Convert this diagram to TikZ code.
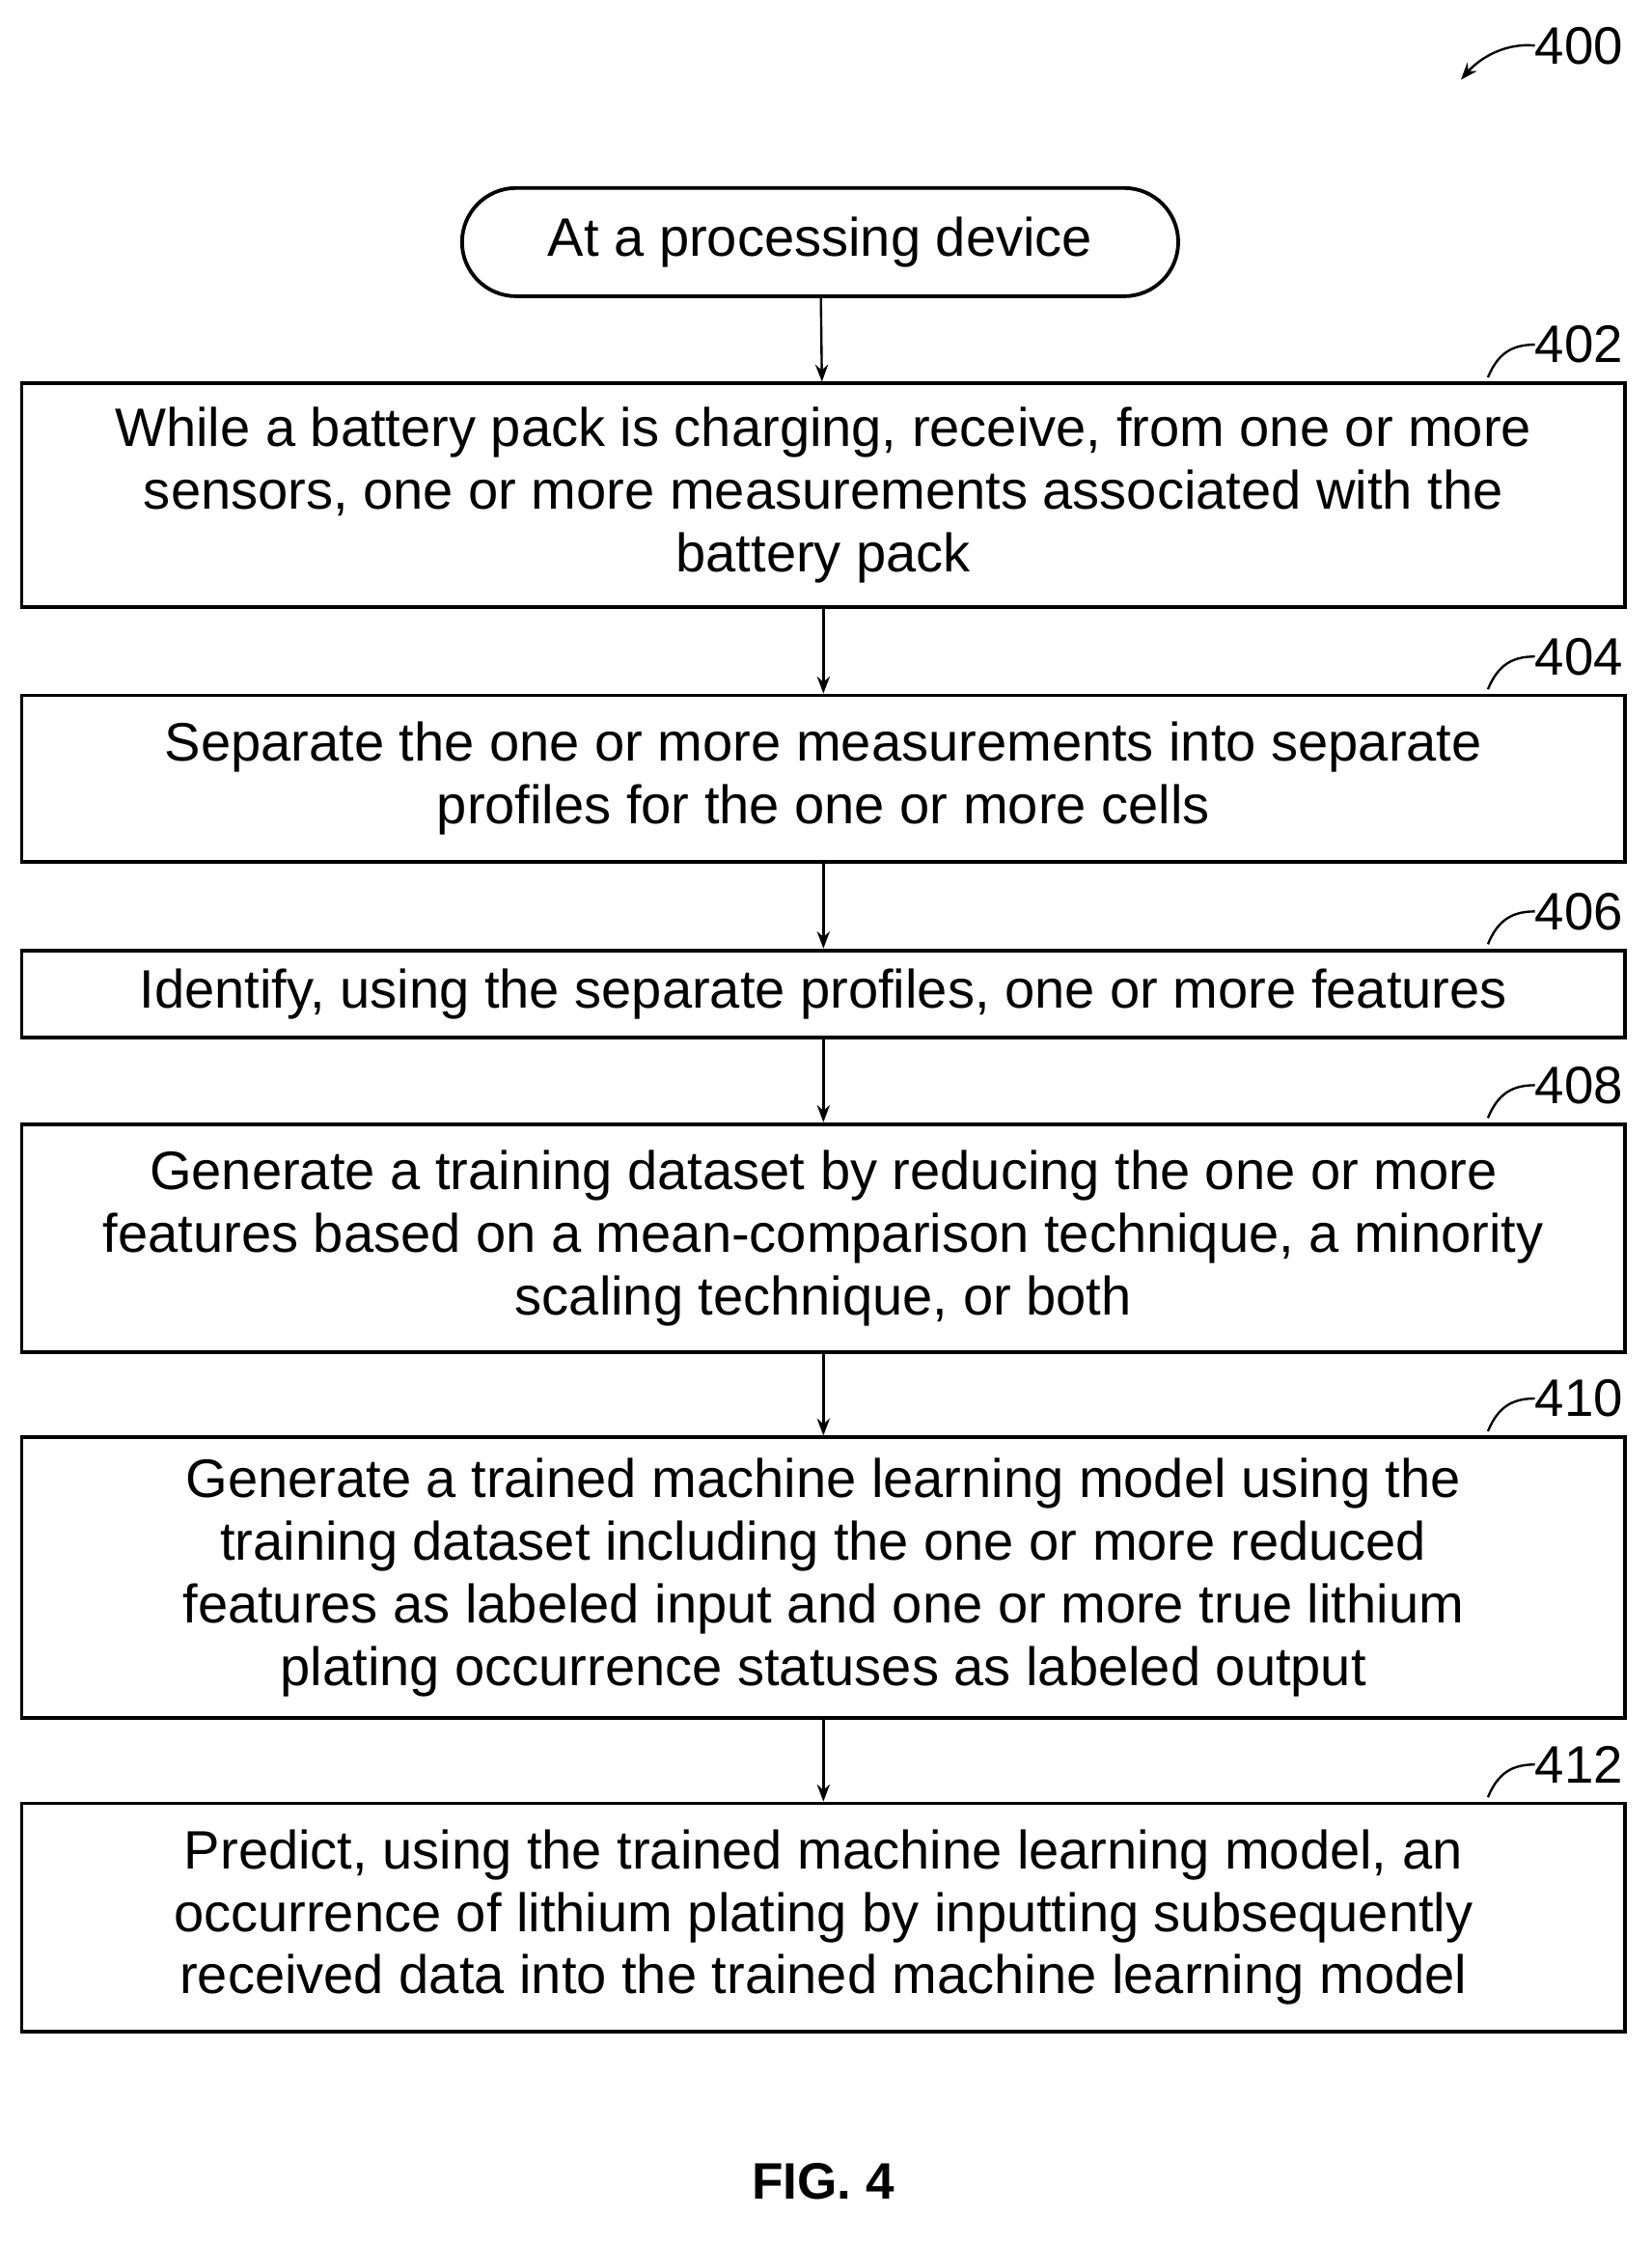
\documentclass[tikz,border=0pt]{standalone}
\usepackage{fontspec}
\setmainfont{Liberation Sans}
\usetikzlibrary{arrows.meta}
\begin{document}
\begin{tikzpicture}[x=1pt,y=-1pt,
  stepbox/.style={draw,line width=2.6pt,minimum width=1126pt,anchor=north west,inner sep=0pt,align=center,font=\fontsize{38}{44}\selectfont},
  term/.style={draw,line width=2.6pt,rounded corners=38pt,minimum width=503pt,minimum height=76pt,font=\fontsize{38}{44}\selectfont},
  arr/.style={line width=1.6pt,-{Stealth[length=12pt,width=9pt]}},
  lead/.style={line width=1.6pt},
  lbl/.style={font=\fontsize{37}{40}\selectfont,anchor=west,inner sep=0pt}]
\useasboundingbox (0,0) rectangle (1160,1575);
\node[term] (t) at (576,170) {At a processing device};
\node[stepbox,minimum height=157pt] (b402) at (14,268) {While a battery pack is charging, receive, from one or more\\sensors, one or more measurements associated with the\\battery pack};
\node[stepbox,minimum height=117pt] (b404) at (14,487) {Separate the one or more measurements into separate\\profiles for the one or more cells};
\node[stepbox,minimum height=61pt] (b406) at (14,666) {Identify, using the separate profiles, one or more features};
\node[stepbox,minimum height=160pt] (b408) at (14,788) {Generate a training dataset by reducing the one or more\\features based on a mean-comparison technique, a minority\\scaling technique, or both};
\node[stepbox,minimum height=197pt] (b410) at (14,1008) {Generate a trained machine learning model using the\\training dataset including the one or more reduced\\features as labeled input and one or more true lithium\\plating occurrence statuses as labeled output};
\node[stepbox,minimum height=160pt] (b412) at (14,1265) {Predict, using the trained machine learning model, an\\occurrence of lithium plating by inputting subsequently\\received data into the trained machine learning model};
\draw[arr] (t) -- (b402);
\draw[arr] (b402) -- (b404);
\draw[arr] (b404) -- (b406);
\draw[arr] (b406) -- (b408);
\draw[arr] (b408) -- (b410);
\draw[arr] (b410) -- (b412);
\foreach \n/\y in {402/268,404/487,406/666,408/788,410/1008,412/1265}{
  \coordinate (c\n) at (1045,\y-3);
  \node[lbl] (l\n) at (1078,\y-26) {\n};
  \draw[lead] (c\n) .. controls (1052,\y-20) and (1062,\y-26) .. (l\n.west);
}
\node[lbl] (l400) at (1078,32) {400};
\coordinate (a400) at (1026,56);
\draw[lead,-{Stealth[length=12pt,width=9pt]}] (l400.west) .. controls (1058,30) and (1040,40) .. (a400);
\node[font=\bfseries\fontsize{36}{40}\selectfont] (fig) at (578,1532) {FIG. 4};
\end{tikzpicture}
\end{document}
